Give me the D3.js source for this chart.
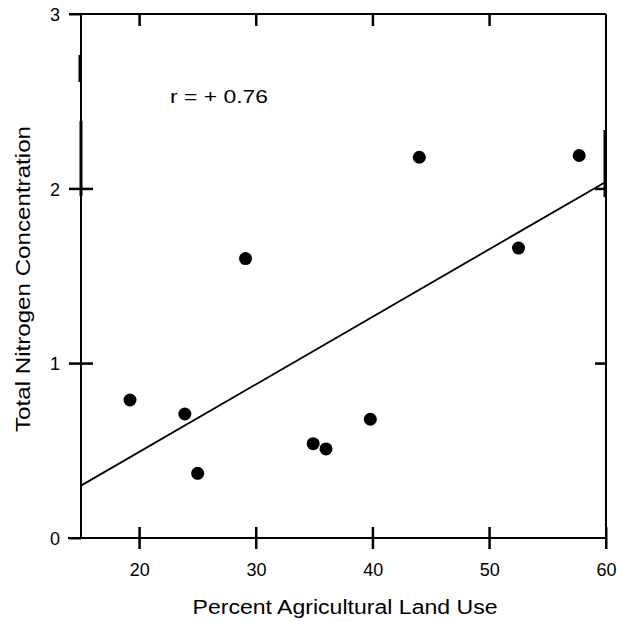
<!DOCTYPE html>
<html><head><meta charset="utf-8">
<script src="https://cdn.jsdelivr.net/npm/d3@7"></script>
<style>body{margin:0;background:#fff}svg{display:block}text{font-family:"Liberation Sans",Arial,sans-serif;fill:#000}</style>
</head><body>
<script>
// Data
const agriculturalPct = [19.2, 23.9, 25.0, 29.1, 34.9, 36.0, 39.8, 44.0, 52.5, 57.7];
const totalNitrogen   = [0.79, 0.71, 0.37, 1.60, 0.54, 0.51, 0.68, 2.18, 1.66, 2.19];
const fitX = [15, 60];
const fitY = [0.30, 2.04];
const xTicks = [20, 30, 40, 50, 60];
const yTicks = [0, 1, 2, 3];
const xTitle = "Percent Agricultural Land Use";
const yTitle = "Total Nitrogen Concentration";
const rLabel = "r = + 0.76";

const W = 617, H = 621;
const m = {left: 81, right: 606, top: 14, bottom: 538};
const svg = d3.select("body").append("svg").attr("width", W).attr("height", H);

const x = d3.scaleLinear().domain([15, 60]).range([m.left, m.right]);
const y = d3.scaleLinear().domain([0, 3]).range([m.bottom, m.top]);

// frame
const frame = svg.append("g").attr("stroke", "#000").attr("stroke-width", 2);
frame.append("line").attr("x1", 70).attr("x2", m.right).attr("y1", m.top).attr("y2", m.top);
frame.append("line").attr("x1", 68).attr("x2", m.right).attr("y1", m.bottom).attr("y2", m.bottom);
frame.append("line").attr("x1", m.left).attr("x2", m.left).attr("y1", m.top).attr("y2", m.bottom);
frame.append("line").attr("x1", m.right).attr("x2", m.right).attr("y1", m.top).attr("y2", m.bottom);
// scan-like thicker segments
frame.append("line").attr("x1", m.left-1).attr("x2", m.left-1).attr("y1", 55).attr("y2", 82).attr("stroke-width", 3);
frame.append("line").attr("x1", m.left).attr("x2", m.left).attr("y1", 121).attr("y2", 196).attr("stroke-width", 3);
frame.append("line").attr("x1", m.right-1).attr("x2", m.right-1).attr("y1", 130).attr("y2", 197).attr("stroke-width", 3);

// tick marks (drawn as rects for crisp rendering)
const ticks = svg.append("g").attr("fill", "#000");
ticks.selectAll(".xb").data(xTicks).join("rect").attr("class", "xb")
  .attr("x", d => x(d) - 1).attr("width", 2.5).attr("y", m.bottom - 11).attr("height", 22);
ticks.selectAll(".xt").data(xTicks.slice(0, 4)).join("rect").attr("class", "xt")
  .attr("x", d => x(d) - 1).attr("width", 2.5).attr("y", m.top).attr("height", 12);
ticks.selectAll(".yl").data(yTicks).join("rect").attr("class", "yl")
  .attr("x", m.left - 12).attr("width", d => (d === 0 || d === 3) ? 12 : 24)
  .attr("y", d => y(d) - 1).attr("height", 2.5);
ticks.selectAll(".yr").data([1, 2]).join("rect").attr("class", "yr")
  .attr("x", m.right - 11).attr("width", 11).attr("y", d => y(d) - 1).attr("height", 2.5);

// tick labels via axes
const xb = svg.append("g").attr("transform", `translate(0,${m.bottom})`)
  .call(d3.axisBottom(x).tickValues(xTicks).tickSize(0).tickPadding(0).tickFormat(d3.format("d")));
xb.select(".domain").remove();
xb.selectAll(".tick line").remove();
xb.selectAll(".tick text").attr("y", 38).attr("dy", null).attr("font-size", 18).attr("font-family", "Liberation Sans, Arial, sans-serif");

const yl = svg.append("g").attr("transform", `translate(${m.left},0)`)
  .call(d3.axisLeft(y).tickValues(yTicks).tickSize(0).tickPadding(0).tickFormat(d3.format("d")));
yl.select(".domain").remove();
yl.selectAll(".tick line").remove();
yl.selectAll(".tick text").attr("x", -21).attr("dy", "0.36em").attr("font-size", 18).attr("font-family", "Liberation Sans, Arial, sans-serif");

// regression line
svg.append("path")
  .datum(fitX.map((d, i) => [d, fitY[i]]))
  .attr("fill", "none").attr("stroke", "#000").attr("stroke-width", 1.8)
  .attr("d", d3.line().x(d => x(d[0])).y(d => y(d[1])));

// points
svg.append("g").selectAll("circle")
  .data(agriculturalPct.map((d, i) => ({x: d, y: totalNitrogen[i]})))
  .join("circle")
  .attr("cx", d => x(d.x)).attr("cy", d => y(d.y)).attr("r", 6.5).attr("fill", "#000");

// annotation
svg.append("text").attr("x", 170).attr("y", 103).attr("font-size", 18)
  .attr("textLength", 98).attr("lengthAdjust", "spacingAndGlyphs").text(rLabel);

// titles
svg.append("text").attr("x", 345).attr("y", 614).attr("text-anchor", "middle").attr("font-size", 20)
  .attr("textLength", 305).attr("lengthAdjust", "spacingAndGlyphs").text(xTitle);
svg.append("text").attr("transform", "translate(30,279) rotate(-90)").attr("text-anchor", "middle")
  .attr("font-size", 20).attr("textLength", 306).attr("lengthAdjust", "spacingAndGlyphs").text(yTitle);
</script>
</body></html>
